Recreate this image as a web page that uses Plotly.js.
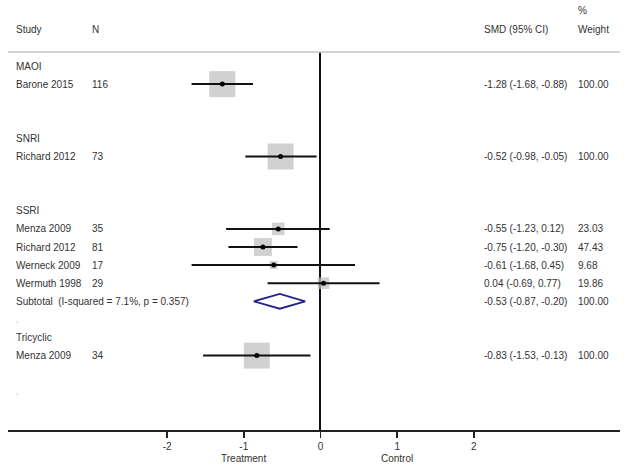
<!DOCTYPE html>
<html>
<head>
<meta charset="utf-8">
<script src="https://cdn.plot.ly/plotly-3.0.1.min.js"></script>
<style>
html,body{margin:0;padding:0;background:#fff;}
#chart{width:628px;height:470px;}
</style>
</head>
<body>
<div id="chart"></div>
<script>
// ---- Data (one entry per table row, top to bottom) ----
var rowType   = ["head","study","","","head","study","","","head","study","study","study","study","subtotal","dot","head","study","","dot"];
var rowStudy  = ["MAOI","Barone 2015","","","SNRI","Richard 2012","","","SSRI","Menza 2009","Richard 2012","Werneck 2009","Wermuth 1998","Subtotal  (I-squared = 7.1%, p = 0.357)",".","Tricyclic","Menza 2009","","."];
var rowN      = ["","116","","","","73","","","","35","81","17","29","","","","34","",""];
var rowSMD    = [null,-1.28,null,null,null,-0.52,null,null,null,-0.55,-0.75,-0.61,0.04,-0.53,null,null,-0.83,null,null];
var rowLo     = [null,-1.68,null,null,null,-0.98,null,null,null,-1.23,-1.20,-1.68,-0.69,-0.87,null,null,-1.53,null,null];
var rowHi     = [null,-0.88,null,null,null,-0.05,null,null,null,0.12,-0.30,0.45,0.77,-0.20,null,null,-0.13,null,null];
var rowWeight = [null,100.00,null,null,null,100.00,null,null,null,23.03,47.43,9.68,19.86,100.00,null,null,100.00,null,null];
var xTicks    = [-2,-1,0,1,2];
var xTickText = ["-2","-1","0","1","2"];
var headers   = {study:"Study", n:"N", smd:"SMD (95% CI)", pct:"%", weight:"Weight"};
var favours   = [{x:-1,text:"Treatment"},{x:1,text:"Control"}];

function fmt(v){ return v.toFixed(2); }

// ---- Build traces ----
var FONT = "Liberation Sans, Arial, sans-serif";
var boxX=[],boxY=[],boxS=[];
var ciX=[],ciY=[];
var dotX=[],dotY=[];
var diaX=[],diaY=[];
var annotations=[];
var colStudy=0.0098, colN=0.134, colSMD=0.7745, colW=0.928;

for (var i=0;i<rowType.length;i++){
  var r=i+1, t=rowType[i];
  if (rowStudy[i]!==""){
    annotations.push({xref:"paper",yref:"y",x:colStudy,y:r,xanchor:"left",yanchor:"middle",
      text:rowStudy[i],showarrow:false,
      font:{family:FONT,size:10,color:(t==="dot"?"#aaaaaa":"#333")}});
  }
  if (rowN[i]!==""){
    annotations.push({xref:"paper",yref:"y",x:colN,y:r,xanchor:"left",yanchor:"middle",
      text:rowN[i],showarrow:false,font:{family:FONT,size:10,color:"#333"}});
  }
  if (rowSMD[i]!==null){
    annotations.push({xref:"paper",yref:"y",x:colSMD,y:r,xanchor:"left",yanchor:"middle",
      text:fmt(rowSMD[i])+" ("+fmt(rowLo[i])+", "+fmt(rowHi[i])+")",showarrow:false,
      font:{family:FONT,size:10,color:"#333"}});
    annotations.push({xref:"paper",yref:"y",x:colW,y:r,xanchor:"left",yanchor:"middle",
      text:fmt(rowWeight[i]),showarrow:false,font:{family:FONT,size:10,color:"#333"}});
  }
  if (t==="study"){
    boxX.push(rowSMD[i]); boxY.push(r); boxS.push(26*Math.sqrt(rowWeight[i]/100));
    ciX.push(rowLo[i],rowHi[i],null); ciY.push(r,r,null);
    dotX.push(rowSMD[i]); dotY.push(r);
  } else if (t==="subtotal"){
    var h=0.41;
    diaX.push(rowLo[i],rowSMD[i],rowHi[i],rowSMD[i],rowLo[i]);
    diaY.push(r,r-h,r,r+h,r);
  }
}

// headers (above plot area, paper coords)
var headY=1.0608, pctY=1.1085, favY=-0.0767;
[["study",colStudy],["n",colN],["smd",colSMD],["weight",colW]].forEach(function(h){
  annotations.push({xref:"paper",yref:"paper",x:h[1],y:headY,xanchor:"left",yanchor:"middle",
    text:headers[h[0]],showarrow:false,font:{family:FONT,size:10,color:"#333"}});
});
annotations.push({xref:"paper",yref:"paper",x:colW,y:pctY,xanchor:"left",yanchor:"middle",
  text:headers.pct,showarrow:false,font:{family:FONT,size:10,color:"#333"}});

favours.forEach(function(f){
  annotations.push({xref:"x",yref:"paper",x:f.x,y:favY,xanchor:"center",yanchor:"middle",
    text:f.text,showarrow:false,font:{family:FONT,size:10,color:"#333"}});
});

var traces=[
  {x:boxX,y:boxY,mode:"markers",type:"scatter",hoverinfo:"skip",
   marker:{symbol:"square",size:boxS,color:"#bdbdbd",line:{width:0}}},
  {x:ciX,y:ciY,mode:"lines",type:"scatter",hoverinfo:"skip",
   line:{color:"#111",width:2}},
  {x:dotX,y:dotY,mode:"markers",type:"scatter",hoverinfo:"skip",
   marker:{symbol:"circle",size:5,color:"#000"}},
  {x:diaX,y:diaY,mode:"lines",type:"scatter",hoverinfo:"skip",
   line:{color:"#23238e",width:1.8}}
];

var layout={
  width:628,height:470,
  margin:{l:8,r:8,t:52,b:40,pad:0},
  paper_bgcolor:"#fff",plot_bgcolor:"#fff",
  showlegend:false,
  font:{family:FONT,size:10,color:"#333"},
  xaxis:{range:[-4.074,3.905],showgrid:false,zeroline:true,zerolinecolor:"#111",zerolinewidth:2,
    showline:true,linecolor:"#222",linewidth:2,
    tickmode:"array",tickvals:xTicks,ticktext:xTickText,ticks:"outside",ticklen:6,tickwidth:1.5,tickcolor:"#222",
    tickfont:{family:FONT,size:10,color:"#333"},fixedrange:true},
  yaxis:{range:[21.11,0.2265],visible:false,showgrid:false,zeroline:false,fixedrange:true},
  shapes:[
    {type:"line",xref:"paper",yref:"paper",x0:0,x1:1,y0:1,y1:1,line:{color:"#c4c4c4",width:1.5}}
  ],
  annotations:annotations
};

Plotly.newPlot("chart",traces,layout,{displayModeBar:false,staticPlot:true});
</script>
</body>
</html>
